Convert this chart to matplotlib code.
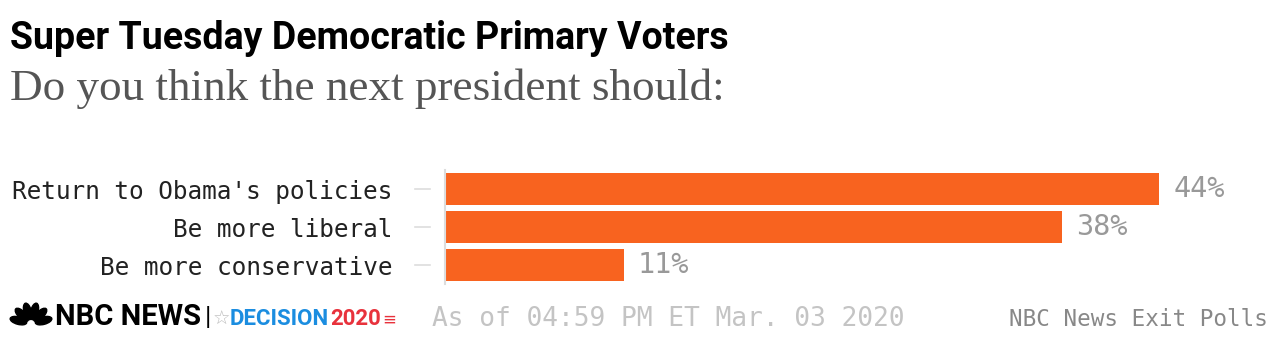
import math
import matplotlib
matplotlib.use("Agg")
import matplotlib.pyplot as plt
from matplotlib.patches import Ellipse

categories = ["Return to Obama's policies", "Be more liberal", "Be more conservative"]
values = [44, 38, 11]

title = "Super Tuesday Democratic Primary Voters"
subtitle = "Do you think the next president should:"
timestamp = "As of 04:59 PM ET Mar. 03 2020"
source = "NBC News Exit Polls"

BAR = "#f8631f"
MONO = "DejaVu Sans Mono"
BOLD = ["Liberation Sans Narrow", "Roboto"]

fig = plt.figure(figsize=(12.8, 3.5), dpi=100)
W, H = 1280, 350

# title block
fig.text(10 / W, 1 - 49 / H, title, fontsize=27, fontweight="bold",
         family=BOLD, color="#000000", va="baseline")
fig.text(10 / W, 1 - 100 / H, subtitle, fontsize=32.5,
         family="Liberation Serif", color="#555555", va="baseline")

# main bars
ax = fig.add_axes([445 / W, 1 - 286 / H, 811.5 / W, 117.8 / H])
y = list(range(len(categories)))
ax.barh(y, values, height=0.84, color=BAR)
ax.set_xlim(0, 50)
ax.set_ylim(2.55, -0.55)
ax.set_yticks(y)
ax.set_yticklabels(categories, family=MONO, fontsize=17.6, color="#222222")
ax.tick_params(axis="y", length=0, pad=38)
ax.set_xticks([])
for s in ["top", "right", "bottom"]:
    ax.spines[s].set_visible(False)
ax.spines["left"].set_color("#dddddd")
ax.spines["left"].set_linewidth(1.5)
ax.spines["left"].set_bounds(-0.5, 2.5)

# detached tick marks
tr = ax.get_yaxis_transform()
for i in y:
    ax.plot([-0.037, -0.018], [i, i], transform=tr, color="#dddddd",
            lw=1.2, clip_on=False)

for i, v in zip(y, values):
    ax.annotate(f"{v}%", (v, i), xytext=(14, 0), textcoords="offset pixels",
                va="center", ha="left", family=MONO, fontsize=20.5, color="#999999")

# footer
fig.text(432 / W, 1 - 326 / H, timestamp, family=MONO, fontsize=18.9,
         color="#c4c4c4", va="baseline")
fig.text(1268 / W, 1 - 326 / H, source, family=MONO, fontsize=16.25,
         color="#888888", va="baseline", ha="right")

# logo: peacock + wordmark
lax = fig.add_axes([9 / W, 1 - 327 / H, 44 / W, 28 / H])
lax.set_xlim(-22, 22)
lax.set_ylim(0, 28)
lax.set_axis_off()
for ang in [-75, -45, -15, 15, 45, 75]:
    r = 13
    cx = r * math.sin(math.radians(ang))
    cy = 3 + r * math.cos(math.radians(ang))
    lax.add_patch(Ellipse((cx, cy), 7.5, 17, angle=-ang, color="black"))

renderer = fig.canvas.get_renderer()
base = 1 - 325 / H
pieces = [
    ("NBC NEWS", 21, "bold", BOLD, "black", 0),
    ("|", 19, "normal", ["Roboto"], "black", 4),
    ("\u2606", 14, "normal", ["DejaVu Sans"], "#bbbbbb", 1),
    ("DECISION", 16, "bold", BOLD, "#1b8de0", 0),
    ("2020", 16, "bold", BOLD, "#e8323c", 1),
    ("\u2261", 12, "normal", ["DejaVu Sans"], "#e8323c", 1),
]
x = 55
for txt, fs, fw, fam, col, gap in pieces:
    x += gap
    t = fig.text(x / W, base, txt, fontsize=fs, fontweight=fw, family=fam,
                 color=col, va="baseline")
    x = t.get_window_extent(renderer).x1

fig.savefig("out.png", dpi=100)
